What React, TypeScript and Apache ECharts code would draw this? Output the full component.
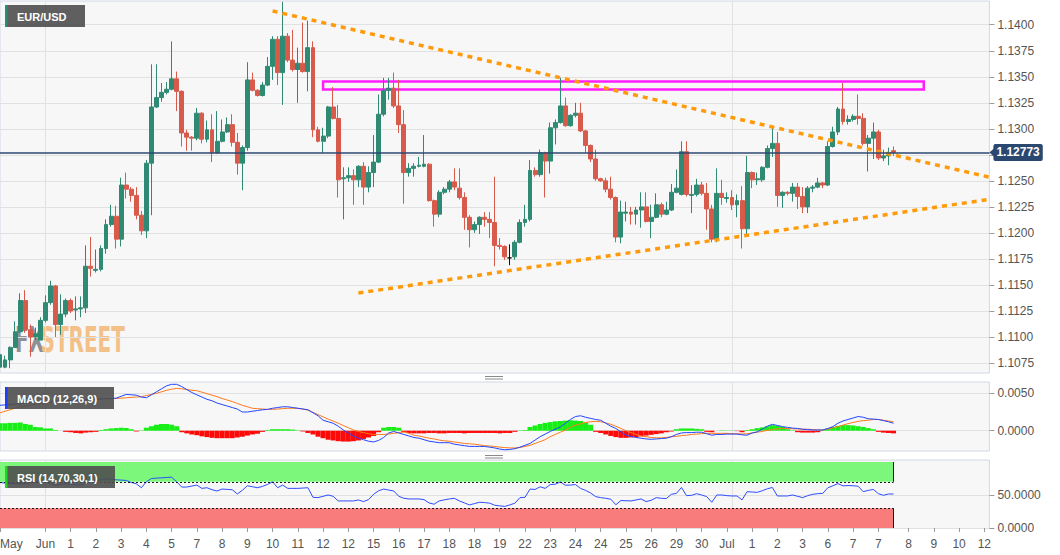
import React, { useEffect, useRef } from 'react';
import * as echarts from 'echarts';

// ---------- DATA ----------
const opens = [
  1.1071,1.1071,1.1078,1.1090,1.1105,1.1135,1.1107,1.1100,1.1097,1.1116,
  1.1133,1.1149,1.1112,1.1122,1.1135,1.1126,1.1127,1.1128,1.1168,1.1164,
  1.1165,1.1185,1.1208,1.1216,1.1194,1.1246,1.1242,1.1236,1.1217,1.1202,
  1.1267,1.1321,1.1330,1.1335,1.1338,1.1348,1.1336,1.1296,1.1292,1.1291,
  1.1315,1.1290,1.1299,1.1277,1.1288,1.1297,1.1304,1.1287,1.1267,1.1282,
  1.1347,1.1337,1.1332,1.1342,1.1360,1.1386,1.1354,1.1389,1.1366,1.1357,
  1.1363,1.1355,1.1378,1.1299,1.1288,1.1293,1.1321,1.1310,1.1252,1.1253,
  1.1255,1.1251,1.1264,1.1244,1.1258,1.1268,1.1314,1.1337,1.1339,1.1322,
  1.1304,1.1258,1.1262,1.1264,1.1264,1.1266,1.1231,1.1218,1.1239,1.1242,
  1.1249,1.1243,1.1234,1.1215,1.1203,1.1208,1.1215,1.1213,1.1210,1.1188,
  1.1187,1.1176,1.1177,1.1191,1.1210,1.1213,1.1260,1.1256,1.1277,1.1269,
  1.1301,1.1306,1.1322,1.1303,1.1313,1.1315,1.1298,1.1284,1.1271,1.1252,
  1.1250,1.1242,1.1234,1.1196,1.1219,1.1220,1.1218,1.1222,1.1225,1.1211,
  1.1215,1.1227,1.1218,1.1222,1.1239,1.1237,1.1278,1.1236,1.1237,1.1246,
  1.1238,1.1223,1.1194,1.1238,1.1233,1.1234,1.1227,1.1231,1.1204,1.1258,
  1.1251,1.1251,1.1263,1.1281,1.1286,1.1236,1.1239,1.1238,1.1244,1.1235,
  1.1225,1.1243,1.1244,1.1248,1.1246,1.1283,1.1297,1.1319,1.1307,1.1309,
  1.1312,1.1310,1.1286,1.1291,1.1297,1.1272,1.1274,1.1279
];
const closes = [
  1.1083,1.1078,1.1090,1.1105,1.1135,1.1107,1.1100,1.1103,1.1116,1.1133,
  1.1149,1.1112,1.1122,1.1135,1.1125,1.1127,1.1128,1.1168,1.1166,1.1165,
  1.1185,1.1208,1.1216,1.1194,1.1246,1.1242,1.1236,1.1217,1.1202,1.1267,
  1.1321,1.1330,1.1335,1.1338,1.1348,1.1336,1.1296,1.1292,1.1291,1.1315,
  1.1290,1.1299,1.1277,1.1288,1.1297,1.1304,1.1287,1.1267,1.1282,1.1347,
  1.1337,1.1332,1.1342,1.1360,1.1386,1.1354,1.1389,1.1366,1.1357,1.1363,
  1.1355,1.1378,1.1299,1.1288,1.1293,1.1321,1.1310,1.1251,1.1253,1.1255,
  1.1251,1.1264,1.1244,1.1258,1.1268,1.1314,1.1337,1.1339,1.1322,1.1304,
  1.1258,1.1262,1.1264,1.1265,1.1266,1.1231,1.1218,1.1239,1.1242,1.1249,
  1.1244,1.1234,1.1215,1.1203,1.1208,1.1215,1.1213,1.1210,1.1188,1.1187,
  1.1177,1.1176,1.1191,1.1210,1.1213,1.1260,1.1256,1.1277,1.1269,1.1301,
  1.1306,1.1322,1.1303,1.1313,1.1315,1.1298,1.1284,1.1271,1.1252,1.1250,
  1.1242,1.1234,1.1196,1.1220,1.1220,1.1218,1.1222,1.1225,1.1211,1.1215,
  1.1227,1.1218,1.1222,1.1239,1.1243,1.1278,1.1237,1.1237,1.1246,1.1238,
  1.1223,1.1194,1.1238,1.1234,1.1234,1.1227,1.1231,1.1204,1.1258,1.1251,
  1.1252,1.1263,1.1281,1.1286,1.1236,1.1239,1.1238,1.1244,1.1235,1.1225,
  1.1243,1.1244,1.1248,1.1246,1.1283,1.1297,1.1319,1.1307,1.1309,1.1312,
  1.1310,1.1286,1.1291,1.1297,1.1272,1.1274,1.1277,1.12773
];
const lows = [
  1.1068,1.1070,1.1070,1.1090,1.1104,1.1104,1.1081,1.1097,1.1097,1.1114,
  1.1131,1.1100,1.1102,1.1119,1.1123,1.1116,1.1119,1.1123,1.1158,1.1162,
  1.1163,1.1180,1.1206,1.1185,1.1187,1.1233,1.1230,1.1213,1.1198,1.1195,
  1.1217,1.1320,1.1326,1.1333,1.1337,1.1317,1.1283,1.1279,1.1279,1.1289,
  1.1286,1.1287,1.1268,1.1276,1.1287,1.1296,1.1283,1.1256,1.1241,1.1279,
  1.1336,1.1331,1.1331,1.1341,1.1347,1.1342,1.1323,1.1364,1.1355,1.1325,
  1.1354,1.1336,1.1292,1.1287,1.1277,1.1291,1.1309,1.1234,1.1213,1.1249,
  1.1227,1.1244,1.1227,1.1239,1.1244,1.1267,1.1312,1.1328,1.1320,1.1296,
  1.1228,1.1254,1.1254,1.1263,1.1263,1.1230,1.1206,1.1215,1.1237,1.1239,
  1.1241,1.1232,1.1203,1.1186,1.1200,1.1199,1.1206,1.1195,1.1168,1.1184,
  1.1174,1.1169,1.1174,1.1190,1.1206,1.1211,1.1254,1.1254,1.1234,1.1257,
  1.1285,1.1305,1.1302,1.1302,1.1311,1.1297,1.1277,1.1268,1.1250,1.1249,
  1.1239,1.1232,1.1191,1.1190,1.1211,1.1208,1.1208,1.1205,1.1210,1.1195,
  1.1214,1.1215,1.1217,1.1221,1.1238,1.1236,1.1235,1.1219,1.1235,1.1236,
  1.1203,1.1191,1.1191,1.1227,1.1229,1.1222,1.1215,1.1185,1.1197,1.1243,
  1.1246,1.1249,1.1262,1.1273,1.1225,1.1224,1.1236,1.1230,1.1223,1.1219,
  1.1219,1.1239,1.1243,1.1243,1.1245,1.1282,1.1294,1.1304,1.1304,1.1307,
  1.1304,1.1284,1.1259,1.1271,1.1270,1.1269,1.1265,1.1274
];
const highs = [
  1.1092,1.1082,1.1091,1.1115,1.1142,1.1145,1.1112,1.1109,1.1119,1.1140,
  1.1154,1.1150,1.1141,1.1137,1.1137,1.1139,1.1139,1.1188,1.1196,1.1184,
  1.1188,1.1213,1.1227,1.1226,1.1253,1.1258,1.1244,1.1244,1.1221,1.1270,
  1.1362,1.1362,1.1344,1.1345,1.1384,1.1355,1.1337,1.1299,1.1293,1.1320,
  1.1316,1.1308,1.1314,1.1317,1.1309,1.1311,1.1314,1.1296,1.1284,1.1364,
  1.1354,1.1338,1.1345,1.1369,1.1389,1.1389,1.1422,1.1392,1.1395,1.1378,
  1.1402,1.1404,1.1384,1.1302,1.1301,1.1322,1.1340,1.1323,1.1263,1.1263,
  1.1261,1.1265,1.1268,1.1264,1.1294,1.1333,1.1349,1.1349,1.1354,1.1347,
  1.1318,1.1267,1.1267,1.1273,1.1294,1.1267,1.1232,1.1241,1.1244,1.1251,
  1.1262,1.1262,1.1239,1.1217,1.1211,1.1216,1.1220,1.1220,1.1254,1.1195,
  1.1188,1.1189,1.1193,1.1213,1.1227,1.1270,1.1263,1.1280,1.1278,1.1306,
  1.1309,1.1349,1.1330,1.1314,1.1325,1.1325,1.1299,1.1285,1.1280,1.1253,
  1.1253,1.1254,1.1235,1.1231,1.1230,1.1225,1.1225,1.1239,1.1239,1.1227,
  1.1238,1.1229,1.1230,1.1247,1.1261,1.1288,1.1288,1.1246,1.1252,1.1249,
  1.1248,1.1227,1.1262,1.1251,1.1239,1.1241,1.1237,1.1245,1.1274,1.1259,
  1.1258,1.1264,1.1284,1.1301,1.1297,1.1240,1.1240,1.1248,1.1248,1.1244,
  1.1245,1.1246,1.1253,1.1249,1.1288,1.1302,1.1321,1.1344,1.1313,1.1314,
  1.1333,1.1315,1.1294,1.1306,1.1299,1.1280,1.1282,1.1283
];

const macdLine = [
  0.0034,0.00345,0.0035,0.00355,0.0036,0.0037,0.00375,0.0038,0.00385,0.0039,
  0.00395,0.004,0.004,0.00405,0.00405,0.0041,0.0041,0.00415,0.0042,0.0042,
  0.00425,0.0043,0.0043,0.00435,0.0046,0.00485,0.0048,0.00475,0.0045,0.0044,
  0.0048,0.0052,0.0056,0.006,0.0062,0.0062,0.0059,0.0055,0.0051,0.0048,
  0.0045,0.0042,0.004,0.0037,0.0035,0.0033,0.0031,0.0029,0.0025,0.0025,
  0.0026,0.0027,0.0028,0.00285,0.003,0.0031,0.0032,0.0032,0.0031,0.003,
  0.0029,0.0028,0.0024,0.002,0.0014,0.0012,0.001,0.0006,0.0001,-0.0003,
  -0.0007,-0.001,-0.0012,-0.0014,-0.0015,-0.0013,-0.0009,-0.0003,-0.0001,-0.0003,
  -0.0005,-0.0007,-0.0009,-0.001,-0.0012,-0.0014,-0.0015,-0.0016,-0.0016,-0.0016,
  -0.0018,-0.0019,-0.002,-0.0021,-0.0021,-0.0021,-0.0021,-0.0022,-0.0023,-0.00245,
  -0.00255,-0.0025,-0.0024,-0.0022,-0.00195,-0.0017,-0.00125,-0.0008,-0.00045,-0.0001,
  0.0002,0.0005,0.001,0.0015,0.0019,0.002,0.0018,0.00165,0.0015,0.0014,
  0.001,0.0006,0.0003,-0.00015,-0.0006,-0.00075,-0.0009,-0.001,-0.0011,-0.00115,
  -0.0011,-0.00105,-0.001,-0.0008,-0.0005,-0.0003,-0.00025,-0.00025,-0.0002,-0.0002,
  -0.0004,-0.0006,-0.0005,-0.0005,-0.00045,-0.00045,-0.00045,-0.00055,-0.0006,-0.0003,
  -0.00015,0.0002,0.0006,0.00085,0.0007,0.00055,0.00045,0.00035,0.0003,0.0002,
  0.00015,0.0001,0.0001,0.0001,0.0003,0.00055,0.001,0.0013,0.0015,0.0017,
  0.0019,0.0018,0.0016,0.00155,0.0015,0.00135,0.0012,0.001
];
const signalLine = [
  0.0024,0.0026,0.0028,0.003,0.0032,0.0033,0.0034,0.00355,0.00365,0.0037,
  0.0038,0.00385,0.00395,0.004,0.00405,0.0041,0.0041,0.00415,0.0042,0.0042,
  0.00425,0.00425,0.0043,0.0043,0.00435,0.0044,0.00445,0.0045,0.00455,0.0047,
  0.00485,0.005,0.0052,0.0054,0.00555,0.00565,0.0056,0.0055,0.0054,0.00535,
  0.00515,0.00495,0.00475,0.00455,0.0043,0.0041,0.0039,0.00365,0.0034,0.0032,
  0.003,0.00295,0.0029,0.00285,0.00285,0.0029,0.00295,0.003,0.003,0.003,
  0.0029,0.00275,0.00245,0.00215,0.00185,0.00155,0.0013,0.001,0.0007,0.0004,
  0.0001,-0.0001,-0.00025,-0.0004,-0.0005,-0.0005,-0.0005,-0.00045,-0.00035,-0.00025,
  -0.00015,-0.00035,-0.0006,-0.0007,-0.00085,-0.001,-0.0011,-0.00125,-0.00135,-0.0014,
  -0.0015,-0.0016,-0.0017,-0.00175,-0.0018,-0.0019,-0.002,-0.00205,-0.0021,-0.0022,
  -0.00225,-0.0023,-0.0023,-0.00225,-0.0021,-0.00195,-0.0017,-0.00145,-0.0012,-0.0008,
  -0.0005,-0.0002,0.0001,0.00045,0.00075,0.0009,0.0011,0.0012,0.00125,0.0012,
  0.00105,0.00085,0.0006,0.0003,0,-0.00025,-0.0005,-0.0007,-0.0008,-0.0009,
  -0.00095,-0.00095,-0.0009,-0.0008,-0.00075,-0.00065,-0.0006,-0.0005,-0.00045,-0.0004,
  -0.00035,-0.00035,-0.00035,-0.00035,-0.00035,-0.0004,-0.0004,-0.00045,-0.0004,-0.0003,
  -0.0002,-0.0001,0.00005,0.00015,0.00025,0.0003,0.0003,0.00025,0.00025,0.0002,
  0.0002,0.00015,0.0001,0.0001,0.0002,0.0004,0.00055,0.00075,0.00095,0.0011,
  0.00125,0.00135,0.0014,0.0015,0.0015,0.0014,0.0013,0.0012
];
const macdHist = [
  0.001,0.001,0.00105,0.00105,0.0011,0.0009,0.0008,0.0005,0.00045,0.0003,
  0.0003,0.0001,0,-0.00015,-0.0002,-0.0003,-0.00035,-0.00025,-0.0002,-0.00015,
  0.0001,0.0002,0.0003,0.00035,0.0004,0.00035,0.0002,-0.0001,0.00005,0.0004,
  0.0006,0.0008,0.0009,0.0009,0.0008,0.0006,-0.0002,-0.00035,-0.0005,-0.0006,
  -0.00075,-0.00085,-0.00095,-0.001,-0.001,-0.001,-0.001,-0.0009,-0.0008,-0.00065,
  -0.0005,-0.0004,-0.00015,0.0001,0.0002,0.0002,0.0002,0.0002,0.00015,0.00005,
  -0.0001,-0.0003,-0.0005,-0.0008,-0.001,-0.0012,-0.0013,-0.0014,-0.00145,-0.00145,
  -0.0014,-0.0013,-0.0011,-0.0009,-0.0007,-0.0002,0.0004,0.0005,0.0005,0.0004,
  -0.0002,-0.0003,-0.00035,-0.00035,-0.00035,-0.0003,-0.0003,-0.00035,-0.00035,-0.0003,
  -0.0003,-0.0003,-0.00035,-0.0003,-0.0003,-0.0003,-0.0003,-0.0003,-0.0003,-0.00035,
  -0.0003,-0.0003,-0.00015,0.00005,0.0001,0.0005,0.0007,0.0009,0.00105,0.00115,
  0.00125,0.0013,0.00135,0.0014,0.00135,0.0013,0.0011,0.0008,-0.00015,-0.0003,
  -0.0005,-0.0007,-0.00085,-0.00095,-0.00095,-0.0009,-0.00085,-0.00075,-0.00065,-0.00055,
  -0.00045,-0.00035,-0.0002,-0.0001,0.0002,0.0003,0.0003,0.0003,0.00025,0.0002,
  -0.00015,-0.0002,0,0.00005,0.00003,0.00003,-0.00005,-0.0002,0.0001,0.0002,
  0.00035,0.00045,0.0006,0.00075,0.00065,0.0005,0.0002,0.00005,-0.0002,-0.00025,
  -0.00025,-0.00025,-0.0002,0.0001,0.0003,0.0005,0.00065,0.00075,0.00075,0.0007,
  0.0006,0.0005,0.00035,0.0002,-0.00015,-0.00025,-0.0003,-0.00035
];
const rsiLine = [
  69,68,67.5,67,67,67,69,70,72,70,
  67,65,66,67,66,65.5,65,68,70,72,
  73,74.5,74,73,72.5,72,69,67,61,70,
  75,75.5,76,76.5,77,70,62,62,63.5,65,
  60,61,58,56,59,58.5,58,51.5,57,64,
  62.5,61,63,66,70,61,65,60,60,60,
  60.5,61,46.5,46,48,50,48,41,41,41,
  41,42.5,40,43,51,56.4,59,57.5,56,48,
  45,44,44,44,43,38,36,41,42.6,44,
  45,41,38,35,37,39,38.5,37.6,34.5,33.5,
  32.7,35,37.6,46,46.5,59,58.4,62.4,60,65.8,
  66.3,69.8,64.8,65,65.8,60,57,53,47.5,46,
  45,43.6,35.2,41.6,41.3,41,42.5,44,40,42,
  46,45,44.6,51,52.5,61.4,49,49.5,52,50,
  47.5,39,50,50,49,48.5,48.5,42.6,55,54.5,
  54,56.4,59.4,61.4,48.5,48.5,48.5,50,48,46,
  49,51,52,52.5,61,64,67.3,63.8,64.3,64,
  63.3,55,57,58.4,52,49.5,51.5,51.5
];

const priceTicks = [1.1075, 1.11, 1.1125, 1.115, 1.1175, 1.12, 1.1225, 1.125, 1.1275, 1.13, 1.1325, 1.135, 1.1375, 1.14];
// 1.1275 sits under the last-price box in the reference, so its text is not shown
const priceLabels = [1.1075, 1.11, 1.1125, 1.115, 1.1175, 1.12, 1.1225, 1.125, 1.13, 1.1325, 1.135, 1.1375, 1.14];
const macdTicks = [0, 0.005];
const rsiTicks = [0, 50];
const tickIdx = [0, 9, 14, 19, 24, 29, 34, 39, 44, 49, 54, 59, 64, 69, 74, 79, 84, 89, 94, 99, 104, 109, 114, 119, 124, 129, 134, 139, 144, 149, 154, 159, 164, 169, 174, 180, 185, 190, 195];
const tickText = ['May', 'Jun', '1', '2', '3', '4', '5', '7', '8', '9', '10', '11', '12', '12', '15', '16', '17', '18', '18', '19', '22', '23', '24', '24', '25', '26', '29', '30', 'Jul', '1', '2', '3', '6', '7', '7', '8', '9', '10', '12'];
const monthGridIdx = [9, 145];
const CATEGORY_COUNT = 197;
const lastPrice = 1.12773;
const lastPriceIdx = 196;
const upperTrend = [[54, 1.14132], [196, 1.12535]];
const lowerTrend = [[71, 1.11422], [196, 1.12323]];
const resistanceZone = [[64, 1.13454], [183, 1.13377]];
const rsiOverbought = [70, 100];
const rsiOversold = [0, 30];
const rsiBandEnd = 177;

// ---------- STYLE ----------
const FONT = '"Liberation Sans", Arial, sans-serif';
const UP = '#2f8a73';
const DOWN = '#d85a4b';
const NAVY = '#2b4870';
const GRID_W = 989.4;

function buildOption() {
  const categories = Array.from({ length: CATEGORY_COUNT }, (_, i) => String(i));
  const labelAt: Record<number, string> = {};
  tickIdx.forEach((ix, k) => { labelAt[ix] = tickText[k]; });
  const ohlc = opens.map((o, i) => [o, closes[i], lows[i], highs[i]]);

  const gridBase = {
    left: 0, width: GRID_W, show: true, backgroundColor: '#f7f7f7',
    borderColor: '#d3d8e6', borderWidth: 1, containLabel: false, outerBoundsMode: 'none',
  };
  const xBase = (gi: number) => ({
    type: 'category', gridIndex: gi, data: categories, boundaryGap: false,
    axisLine: { show: false }, axisTick: { show: false }, axisLabel: { show: false },
    splitLine: { show: true, interval: (i: number) => monthGridIdx.includes(i), lineStyle: { color: '#e1e1e1', width: 1 } },
  });
  const yBase = (gi: number, min: number, max: number, ticks: number[], labels: number[]) => ({
    type: 'value', gridIndex: gi, position: 'right', min, max, scale: true,
    axisLine: { show: false },
    axisTick: { show: true, length: 5, customValues: ticks, lineStyle: { color: '#9a9a9a' } },
    axisLabel: { customValues: labels, formatter: (v: number) => v.toFixed(4), color: '#555', fontSize: 12, fontFamily: FONT, margin: 8 },
    splitLine: { show: true, lineStyle: { color: '#e1e1e1', width: 1 } },
  });

  const trendStyle = { color: '#ff9a0a', width: 3.5, type: [5, 5] };
  const bandEdge = { color: '#1a1a1a', width: 1, type: [2, 2] };
  const bandSide = { color: '#1a1a1a', width: 1, type: 'solid' };

  const boxes = [
    { x: 5, y: 5, w: 80, h: 22, stripe: '#2e8b73', text: 'EUR/USD' },
    { x: 5, y: 387, w: 109, h: 22, stripe: '#1f3df2', text: 'MACD (12,26,9)' },
    { x: 5, y: 466, w: 110, h: 22, stripe: '#22d522', text: 'RSI (14,70,30,1)' },
  ];
  const boxGraphics: any[] = [];
  boxes.forEach((b) => {
    boxGraphics.push({ type: 'rect', z: 50, silent: true, shape: { x: b.x, y: b.y, width: b.w, height: b.h }, style: { fill: 'rgba(78,78,78,0.9)' } });
    boxGraphics.push({ type: 'rect', z: 51, silent: true, shape: { x: b.x, y: b.y, width: 2.5, height: b.h }, style: { fill: b.stripe } });
    boxGraphics.push({ type: 'text', z: 52, silent: true, x: b.x + 12, y: b.y + b.h / 2 + 0.5, style: { text: b.text, fill: '#fff', font: `bold 11px ${FONT}`, verticalAlign: 'middle', align: 'left' } });
  });
  const handles = [376.5, 379, 455.5, 458].map((y) => ({
    type: 'line', silent: true, z: 5, shape: { x1: 485, y1: y, x2: 503, y2: y }, style: { stroke: '#8a8a8a', lineWidth: 1 },
  }));

  return {
    animation: false,
    backgroundColor: '#ffffff',
    textStyle: { fontFamily: FONT },
    grid: [
      { ...gridBase, top: 1, height: 372 },
      { ...gridBase, top: 382, height: 69 },
      { ...gridBase, top: 460, height: 68.5 },
    ],
    xAxis: [
      xBase(0),
      xBase(1),
      {
        ...xBase(2),
        axisTick: { show: true, interval: (i: number) => labelAt[i] !== undefined, length: 4, lineStyle: { color: '#9a9a9a' } },
        axisLabel: {
          show: true, interval: (i: number) => labelAt[i] !== undefined,
          formatter: (v: string) => labelAt[Number(v)] ?? '',
          color: '#555', fontSize: 12, fontFamily: FONT, margin: 9, alignMinLabel: 'left',
        },
      },
    ],
    yAxis: [
      yBase(0, 1.10654, 1.14228, priceTicks, priceLabels),
      yBase(1, -0.00271, 0.00651, macdTicks, macdTicks),
      yBase(2, -0.76, 103, rsiTicks, rsiTicks),
    ],
    graphic: [
      {
        type: 'group', x: 15, y: 340, scaleX: 0.555, z: 1, silent: true,
        children: [
          { type: 'text', x: 0, y: 0, style: { text: 'FX', fill: '#8f8f96', font: 'bold 36px "DejaVu Sans"', verticalAlign: 'middle' } },
          { type: 'text', x: 46, y: 0, style: { text: 'STREET', fill: '#f3c087', font: 'bold 36px "DejaVu Sans"', verticalAlign: 'middle' } },
        ],
      },
      ...boxGraphics,
      ...handles,
    ],
    series: [
      {
        type: 'candlestick', xAxisIndex: 0, yAxisIndex: 0, data: ohlc, barWidth: 4.4,
        itemStyle: { color: UP, color0: DOWN, borderColor: UP, borderColor0: DOWN, borderColorDoji: '#111', borderWidth: 1 },
        markArea: {
          silent: true,
          itemStyle: { color: 'rgba(0,0,0,0)', borderColor: '#ff1cff', borderWidth: 2.5 },
          data: [[{ coord: resistanceZone[0] }, { coord: resistanceZone[1] }]],
        },
        markPoint: {
          silent: true,
          data: [{
            coord: [lastPriceIdx, lastPrice], symbol: 'triangle', symbolSize: [9, 5], symbolRotate: 90,
            symbolOffset: [2.5, 0], itemStyle: { color: NAVY }, label: { show: false },
          }],
        },
        markLine: {
          silent: true, precision: 6, symbol: ['none', 'none'], label: { show: false },
          data: [
            [{ coord: upperTrend[0], lineStyle: trendStyle }, { coord: upperTrend[1] }],
            [{ coord: lowerTrend[0], lineStyle: trendStyle }, { coord: lowerTrend[1] }],
            {
              yAxis: lastPrice,
              lineStyle: { color: NAVY, width: 1.5, type: 'solid' },
              label: {
                show: true, position: 'end', distance: 4, formatter: () => lastPrice.toFixed(5),
                color: '#fff', fontWeight: 'bold', fontSize: 12, fontFamily: FONT,
                backgroundColor: NAVY, padding: [3, 3, 2, 3], borderRadius: 2,
              },
            },
          ],
        },
      },
      {
        type: 'bar', xAxisIndex: 1, yAxisIndex: 1, barWidth: '100%',
        data: macdHist.map((v) => ({ value: v, itemStyle: { color: v >= 0 ? '#16ee16' : '#ff0808' } })),
      },
      {
        type: 'line', xAxisIndex: 1, yAxisIndex: 1, data: macdLine, showSymbol: false,
        lineStyle: { color: '#2346ff', width: 1 }, z: 4,
      },
      {
        type: 'line', xAxisIndex: 1, yAxisIndex: 1, data: signalLine, showSymbol: false,
        lineStyle: { color: '#ff7a1c', width: 1 }, z: 3,
      },
      {
        type: 'line', xAxisIndex: 2, yAxisIndex: 2, data: rsiLine, showSymbol: false,
        lineStyle: { color: '#2d4dff', width: 1 }, z: 4,
        markArea: {
          silent: true,
          data: [
            [{ coord: [0, rsiOverbought[0]], itemStyle: { color: '#7cf77c' } }, { coord: [rsiBandEnd, rsiOverbought[1]] }],
            [{ coord: [0, rsiOversold[0]], itemStyle: { color: '#f87c7c' } }, { coord: [rsiBandEnd, rsiOversold[1]] }],
          ],
        },
        markLine: {
          silent: true, precision: 6, symbol: ['none', 'none'], label: { show: false },
          data: [
            [{ coord: [0, rsiOverbought[0]], lineStyle: bandEdge }, { coord: [rsiBandEnd, rsiOverbought[0]] }],
            [{ coord: [0, rsiOversold[1]], lineStyle: bandEdge }, { coord: [rsiBandEnd, rsiOversold[1]] }],
            [{ coord: [rsiBandEnd, rsiOverbought[0]], lineStyle: bandSide }, { coord: [rsiBandEnd, rsiOverbought[1]] }],
            [{ coord: [rsiBandEnd, rsiOversold[0]], lineStyle: bandSide }, { coord: [rsiBandEnd, rsiOversold[1]] }],
          ],
        },
      },
    ],
  };
}

export default function App() {
  const ref = useRef<HTMLDivElement>(null);
  useEffect(() => {
    if (!ref.current) return;
    const chart = echarts.init(ref.current, undefined, { renderer: 'svg' });
    chart.setOption(buildOption() as any);
    return () => chart.dispose();
  }, []);
  return <div ref={ref} style={{ position: 'fixed', left: 0, top: 0, width: 1060, height: 555 }} />;
}
